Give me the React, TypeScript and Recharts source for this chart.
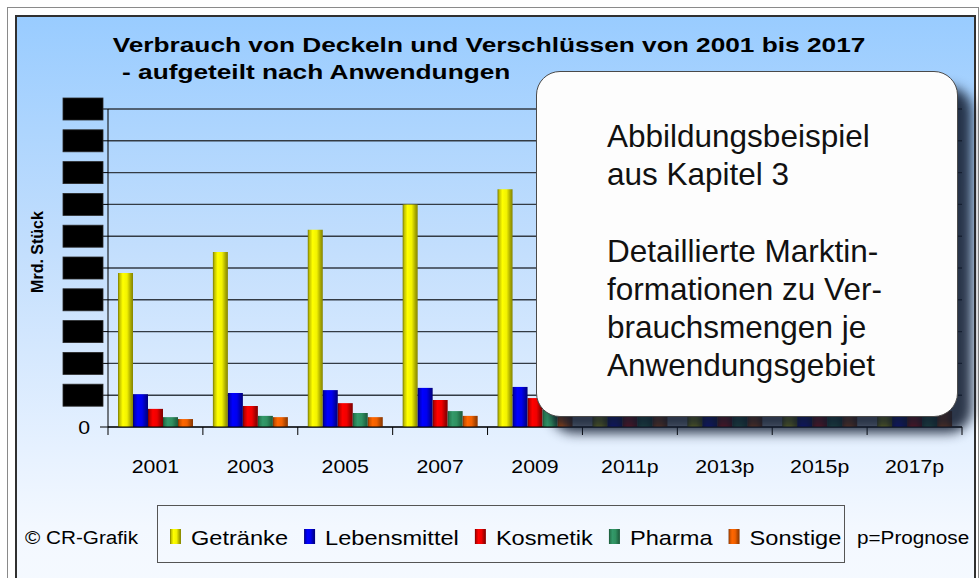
import React from "react";
import { BarChart, Bar, XAxis, YAxis, CartesianGrid, Legend } from "recharts";

const categories = ["2001", "2003", "2005", "2007", "2009", "2011p", "2013p", "2015p", "2017p"];
const getraenke = [48.4, 55.0, 62.0, 70.0, 74.8, 80.0, 85.5, 91.0, 96.0];
const lebensmittel = [10.3, 10.7, 11.6, 12.3, 12.6, 13.3, 13.9, 14.5, 15.1];
const kosmetik = [5.7, 6.6, 7.5, 8.5, 9.1, 9.8, 10.4, 11.0, 11.6];
const pharma = [3.1, 3.5, 4.4, 5.0, 5.4, 5.7, 6.1, 6.5, 6.9];
const sonstige = [2.5, 3.1, 3.1, 3.5, 3.8, 4.1, 4.4, 4.7, 5.0];
const yTicks = [0, 10, 20, 30, 40, 50, 60, 70, 80, 90, 100];

const series = [
  { key: "getraenke", name: "Getränke", shades: ["#7a7a00", "#c4c400", "#ffff00", "#f2f200", "#a6a600", "#858500"] },
  { key: "lebensmittel", name: "Lebensmittel", shades: ["#00006a", "#0000c0", "#0000ff", "#0000ee", "#0000a0", "#000078"] },
  { key: "kosmetik", name: "Kosmetik", shades: ["#700000", "#c00000", "#ff0000", "#f00000", "#a00000", "#800000"] },
  { key: "pharma", name: "Pharma", shades: ["#1a5236", "#287d52", "#33996a", "#2f9060", "#226b47", "#1c5a3b"] },
  { key: "sonstige", name: "Sonstige", shades: ["#7a2e00", "#cc5200", "#ff6600", "#f06000", "#a84400", "#8a3600"] },
];

const data = categories.map((year, i) => ({
  year,
  getraenke: getraenke[i],
  lebensmittel: lebensmittel[i],
  kosmetik: kosmetik[i],
  pharma: pharma[i],
  sonstige: sonstige[i],
}));

const W = 979;
const H = 578;
const MARGIN = { top: 109, right: 17, left: 0, bottom: 101 };
const BAND = (W - 108 - MARGIN.right) / categories.length;
const FONT = "'Liberation Sans', Arial, sans-serif";

// the original image is stretched sideways, so some texts get scaleX
const STRETCH_TITLE = 1.25;
const STRETCH_LEGEND = 1.18;
const STRETCH_NOTE = 1.09;
const STRETCH_AXIS = 1.12;

let measureCtx: CanvasRenderingContext2D | null = null;
const textWidth = (t: string, font: string) => {
  if (!measureCtx) measureCtx = document.createElement("canvas").getContext("2d");
  if (!measureCtx) return t.length * 10;
  measureCtx.font = font;
  return measureCtx.measureText(t).width;
};

const XTick = (props: any) => {
  const { x, y, payload, index, visibleTicksCount } = props;
  const half = BAND / 2;
  return (
    <g>
      <line x1={x - half} x2={x - half} y1={y} y2={y + 8} stroke="#000" />
      {index === visibleTicksCount - 1 && <line x1={x + half} x2={x + half} y1={y} y2={y + 8} stroke="#000" />}
      <text
        transform={`translate(${x},${y + 46}) scale(${STRETCH_AXIS},1)`}
        textAnchor="middle"
        fontSize={19}
        fontFamily={FONT}
        fill="#000"
      >
        {payload.value}
      </text>
    </g>
  );
};

const YTick = (props: any) => {
  const { x, y, payload } = props;
  if (payload.value === 0) {
    return (
      <text
        transform={`translate(${x - 8},${y + 7}) scale(${STRETCH_AXIS},1)`}
        textAnchor="end"
        fontSize={19}
        fontFamily={FONT}
        fill="#000"
      >
        0
      </text>
    );
  }
  // Werte im Original abgedeckt
  return (
    <g>
      <text x={x - 15} y={y + 5} textAnchor="middle" fontSize={14} fontFamily={FONT} fill="#000">
        {payload.value}
      </text>
      <rect x={x - 35} y={y - 11} width={40} height={22} fill="#000" stroke="#2a2a2a" strokeWidth={0.8} />
    </g>
  );
};

const YLabel = (props: any) => {
  const vb = props.viewBox;
  return (
    <text
      transform={`translate(${vb.x + 43},${vb.y + vb.height / 2 - 16}) rotate(-90)`}
      textAnchor="middle"
      fontSize={16}
      fontWeight="bold"
      fontFamily={FONT}
      fill="#000"
    >
      Mrd. Stück
    </text>
  );
};

const renderLegend = (props: any) => {
  const payload: any[] = props.payload || [];
  const items = series
    .map((s) => payload.find((p) => p.dataKey === s.key))
    .filter(Boolean);
  let cx = 12;
  const font = `20px ${FONT}`;
  return (
    <svg width={686} height={56} style={{ display: "block" }}>
      {items.map((p: any, i: number) => {
        const sx = cx;
        const tx = sx + 12 + 9;
        const w = textWidth(p.value, font) * STRETCH_LEGEND;
        cx = tx + w + 16;
        return (
          <g key={i}>
            <rect x={sx} y={23} width={11} height={15} fill={`url(#lg-${p.dataKey})`} />
            <text
              transform={`translate(${tx},39) scale(${STRETCH_LEGEND},1)`}
              fontSize={20}
              fontFamily={FONT}
              fill="#000"
            >
              {p.value}
            </text>
          </g>
        );
      })}
    </svg>
  );
};

const overlayLines = [
  "Abbildungsbeispiel",
  "aus Kapitel 3",
  "",
  "Detaillierte Marktin-",
  "formationen zu Ver-",
  "brauchsmengen je",
  "Anwendungsgebiet",
];

export default function App() {
  return (
    <div style={{ position: "absolute", left: 0, top: 0, width: W, height: H, background: "#fff", overflow: "hidden" }}>
      {/* äußerer Rahmen */}
      <div
        style={{
          position: "absolute",
          left: 7,
          top: 7,
          width: 970,
          height: 600,
          borderLeft: "1px solid #8a8a8a",
          borderTop: "1px solid #8a8a8a",
          borderRight: "1px solid #8a8a8a",
        }}
      />
      <div
        style={{
          position: "absolute",
          left: 15,
          top: 15,
          width: 957,
          height: 600,
          border: "2px solid #303030",
          background: "linear-gradient(to bottom, #99ccff 0%, #c2defd 38%, #e6f1ff 72%, #f3f8ff 85%, #f6faff 100%)",
        }}
      />
      <div style={{ position: "absolute", left: 0, top: 0 }}>
        <BarChart width={W} height={H} data={data} margin={MARGIN} barCategoryGap={10} barGap={0}>
          <defs>
            {series.map((s) => (
              <linearGradient key={s.key} id={`lg-${s.key}`} x1="0" y1="0" x2="1" y2="0">
                <stop offset="0" stopColor={s.shades[0]} />
                <stop offset="0.12" stopColor={s.shades[1]} />
                <stop offset="0.32" stopColor={s.shades[2]} />
                <stop offset="0.6" stopColor={s.shades[3]} />
                <stop offset="0.85" stopColor={s.shades[4]} />
                <stop offset="1" stopColor={s.shades[5]} />
              </linearGradient>
            ))}
          </defs>
          <text
            transform={`translate(489,52) scale(${STRETCH_TITLE},1)`}
            textAnchor="middle"
            fontSize={21}
            fontWeight="bold"
            fontFamily={FONT}
            fill="#000"
          >
            Verbrauch von Deckeln und Verschlüssen von 2001 bis 2017
          </text>
          <text
            transform={`translate(122,79) scale(${STRETCH_TITLE},1)`}
            fontSize={21}
            fontWeight="bold"
            fontFamily={FONT}
            fill="#000"
          >
            - aufgeteilt nach Anwendungen
          </text>
          <text transform={`translate(25,544) scale(${STRETCH_NOTE},1)`} fontSize={19} fontFamily={FONT} fill="#000">
            © CR-Grafik
          </text>
          <text transform={`translate(857,544) scale(${STRETCH_NOTE},1)`} fontSize={19} fontFamily={FONT} fill="#000">
            p=Prognose
          </text>
          <CartesianGrid horizontal vertical={false} stroke="#333b44" strokeWidth={1.4} />
          <XAxis
            dataKey="year"
            height={50}
            tickLine={false}
            tickSize={0}
            tickMargin={0}
            axisLine={{ stroke: "#000" }}
            tick={<XTick />}
            interval={0}
          />
          <YAxis
            width={108}
            domain={[0, 100]}
            ticks={yTicks}
            tickSize={8}
            tickMargin={2}
            tickLine={{ stroke: "#000" }}
            axisLine={{ stroke: "#000" }}
            tick={<YTick />}
            label={<YLabel />}
            interval={0}
          />
          {series.map((s) => (
            <Bar key={s.key} dataKey={s.key} name={s.name} fill={`url(#lg-${s.key})`} isAnimationActive={false} />
          ))}
          <Legend
            content={renderLegend}
            layout="horizontal"
            verticalAlign="middle"
            align="center"
            wrapperStyle={{
              position: "absolute",
              left: 157,
              top: 505,
              width: 688,
              height: 58,
              border: "1px solid #555",
              boxSizing: "border-box",
            }}
          />
        </BarChart>
      </div>
      {/* Hinweisbox */}
      <div
        style={{
          position: "absolute",
          left: 536,
          top: 71,
          width: 422,
          height: 346,
          boxSizing: "border-box",
          border: "1px solid #4a4a4a",
          borderRadius: 24,
          background: "#fdfdfd",
          boxShadow: "14px 16px 12px rgba(18,28,48,0.88)",
        }}
      >
        <svg width={420} height={344} style={{ position: "absolute", left: 0, top: 0 }}>
          {overlayLines.map((line, i) => (
            <text key={i} x={70} y={75 + i * 38.2} fontSize={31.5} fontFamily={FONT} fill="#111">
              {line}
            </text>
          ))}
        </svg>
      </div>
    </div>
  );
}
